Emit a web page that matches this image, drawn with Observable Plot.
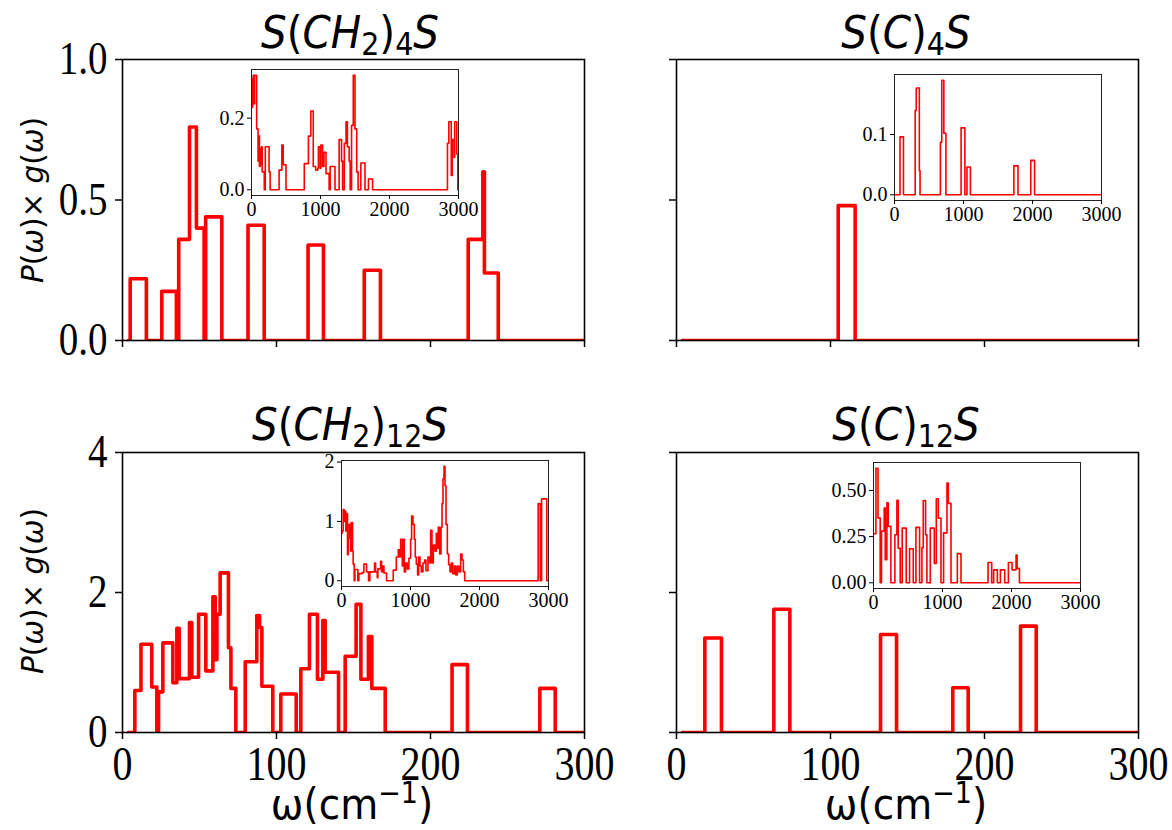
<!DOCTYPE html>
<html>
<head>
<meta charset="utf-8">
<script src="https://cdn.jsdelivr.net/npm/d3@7"></script>
<script src="https://cdn.jsdelivr.net/npm/@observablehq/plot@0.6"></script>
<style>
  body { margin: 0; background: #fff; }
  #fig { position: relative; width: 1172px; height: 830px; overflow: hidden; background: #fff; }
  #fig svg { position: absolute; overflow: visible; }
  #fig svg.panel text { font-family: "Liberation Serif", "Times New Roman", serif; }
</style>
</head>
<body>
<div id="fig"></div>
<script>
// ---- Projected phonon DOS, low-frequency window (0–300 cm^-1), step histograms ----
const omegaCH2_4 = [4, 5, 15.5, 25.5, 35, 36.5, 43.5, 48, 53, 54, 64.5, 81.5, 92, 120.5, 130.5, 157, 167.5, 224.5, 234, 235, 244, 300];
const valueCH2_4 = [0, 0.22, 0, 0.175, 0, 0.36, 0.76, 0.40, 0, 0.44, 0, 0.41, 0, 0.34, 0, 0.25, 0, 0.36, 0.60, 0.24, 0, 0];

const omegaC_4 = [4, 105, 116, 300];
const valueC_4 = [0, 0.48, 0, 0];

const omegaCH2_12 = [4, 8, 12, 19, 22.3, 23.4, 26.2, 32.7, 35.3, 36.8, 43.5, 45, 49.4, 54.1, 58.7, 60.2, 61.3, 63.4, 68.8, 70.4, 73.6, 79.7, 87.2, 89, 90.5, 97.6, 102.8, 112.8, 115.8, 121.4, 126.6, 130.1, 131.6, 140.3, 144.6, 151.7, 154.8, 159.7, 161.9, 170.6, 214, 224, 271, 281, 300];
const valueCH2_12 = [0, 0.60, 1.26, 0.65, 0, 0.58, 1.28, 0.71, 1.49, 0.77, 1.57, 0.79, 1.69, 0.88, 1.94, 1.04, 1.69, 2.28, 1.21, 0.63, 0, 1.01, 1.67, 1.50, 0.66, 0, 0.55, 0, 0.91, 1.69, 0.76, 1.60, 0.86, 0, 1.09, 1.83, 0.76, 1.37, 0.63, 0, 0.97, 0, 0.63, 0, 0];

const omegaC_12 = [4, 18.4, 29.2, 63.2, 73.6, 132.5, 142.9, 179.4, 189.4, 223.4, 233.6, 300];
const valueC_12 = [0, 1.35, 0, 1.76, 0, 1.40, 0, 0.64, 0, 1.52, 0, 0];

// ---- Full spectrum (0–3000 cm^-1) for the insets ----
const omegaCH2_4full = [5, 15, 25, 35, 45, 55, 75, 95, 100, 115, 125, 135, 145, 155, 185, 200, 255, 270, 400, 440, 460, 500, 765, 825, 860, 895, 930, 960, 970, 995, 1005, 1030, 1050, 1080, 1125, 1140, 1210, 1270, 1305, 1320, 1345, 1370, 1390, 1415, 1430, 1450, 1475, 1500, 1525, 1545, 1585, 1645, 1695, 1755, 2840, 2860, 2895, 2910, 2935, 2945, 2975, 2990, 3000];
const valueCH2_4full = [0.23, 0.31, 0.32, 0.24, 0.32, 0.32, 0.17, 0.08, 0.15, 0.065, 0.115, 0.07, 0.12, 0.05, 0, 0.12, 0.05, 0, 0.055, 0.125, 0.07, 0, 0.073, 0.15, 0.22, 0.065, 0.055, 0.06, 0.12, 0.06, 0.125, 0.065, 0.105, 0.045, 0, 0.065, 0, 0.14, 0.08, 0, 0.13, 0.19, 0.12, 0.08, 0, 0.18, 0.32, 0.17, 0.05, 0, 0.075, 0, 0.03, 0, 0.13, 0.19, 0.04, 0.14, 0.09, 0.19, 0.1, 0, 0];

const omegaC_4full = [5, 80, 130, 300, 315, 360, 370, 665, 685, 715, 745, 965, 1020, 1050, 1100, 1730, 1790, 1975, 2030, 3000];
const valueC_4full = [0, 0.096, 0, 0.14, 0.177, 0.04, 0, 0.087, 0.19, 0.102, 0, 0.111, 0, 0.046, 0, 0.048, 0, 0.057, 0, 0];

const omegaCH2_12full = [5, 10, 24, 39, 48, 63, 73, 87, 97, 111, 131, 140, 160, 169, 184, 194, 237, 252, 300, 324, 363, 392, 411, 460, 479, 494, 518, 527, 566, 581, 595, 615, 653, 750, 794, 823, 842, 857, 881, 895, 910, 929, 953, 977, 1002, 1016, 1036, 1055, 1069, 1084, 1103, 1118, 1137, 1157, 1181, 1205, 1224, 1253, 1278, 1292, 1311, 1331, 1355, 1374, 1389, 1403, 1423, 1442, 1457, 1471, 1486, 1500, 1515, 1534, 1553, 1573, 1592, 1611, 1636, 1655, 1679, 1703, 1727, 1747, 1766, 1786, 2850, 2880, 2900, 2975, 3000];
const valueCH2_12full = [0.80, 0.84, 1.2, 1.0, 1.17, 0.84, 1.13, 0.44, 0.72, 0.95, 0.5, 0.98, 0.5, 0.28, 0, 0.19, 0, 0.12, 0.14, 0.28, 0.15, 0, 0.15, 0.15, 0.3, 0.15, 0.05, 0.2, 0.33, 0.15, 0.25, 0.13, 0, 0.18, 0.4, 0.52, 0.4, 0.7, 0.25, 0.7, 0.15, 0.3, 0.2, 0.38, 0.7, 1.09, 0.95, 0.7, 0.4, 0.28, 0.1, 0.4, 0.25, 0.15, 0.3, 0.35, 0.17, 0.4, 0.3, 0.85, 0.3, 0.6, 0.5, 0.8, 0.55, 0.9, 0.45, 0.9, 1.3, 1.72, 1.93, 1.6, 0.95, 0.45, 0.27, 0.15, 0.3, 0.12, 0.25, 0.1, 0.25, 0.15, 0.45, 0.35, 0.15, 0, 1.3, 0, 1.38, 0, 0];

const omegaC_12full = [5, 35, 65, 97, 116, 155, 170, 194, 213, 252, 310, 339, 358, 387, 416, 474, 523, 576, 615, 668, 702, 721, 755, 774, 823, 881, 910, 939, 978, 1016, 1065, 1084, 1123, 1215, 1268, 1660, 1713, 1742, 1795, 1839, 1902, 1955, 2008, 2066, 2081, 2115, 3000];
const valueC_12full = [0.265, 0.62, 0.35, 0, 0.28, 0.405, 0.125, 0.433, 0.305, 0, 0.26, 0.447, 0.187, 0, 0.296, 0, 0.184, 0, 0.30, 0, 0.19, 0.445, 0.26, 0, 0.296, 0.105, 0.455, 0.35, 0, 0.27, 0.54, 0.43, 0, 0.158, 0, 0.11, 0, 0.07, 0, 0.07, 0, 0.11, 0.07, 0.15, 0.078, 0, 0];

// ---- Axis tick values ----
const xTicksMain = [0, 100, 200, 300];
const yTicksTop = [0, 0.5, 1.0];
const yTicksBottom = [0, 2, 4];
const xTicksInset = [0, 1000, 2000, 3000];

const SERIF = "Liberation Serif";
const fig = document.getElementById("fig");
const rows = (omega, value) => omega.map((w, i) => ({w, v: value[i]}));

function put(svg, left, top) {
  svg.classList.add("panel");
  svg.style.left = left + "px";
  svg.style.top = top + "px";
  fig.appendChild(svg);
}

// Tall, narrow tick digits: enlarge the font and squeeze it back to its natural width
function tallen(svg, axis, size, k) {
  d3.select(svg).selectAll(`g[aria-label='${axis}-axis tick label'] text`).each(function () {
    if (!this.textContent) return;
    this.style.fontSize = size + "px";
    const L = this.getComputedTextLength();
    this.style.fontSize = (size * k) + "px";
    this.setAttribute("textLength", L);
    this.setAttribute("lengthAdjust", "spacingAndGlyphs");
  });
}

// Main panel: frame at (fx, fy) with size fw x fh
function mainPanel({omega, value, yDomain, yTicks, yFormat, showX, showY, fx, fy, fw, fh}) {
  const m = {l: 110, r: 20, t: 20, b: 60};
  const svg = Plot.plot({
    width: fw + m.l + m.r, height: fh + m.t + m.b,
    marginLeft: m.l, marginRight: m.r, marginTop: m.t, marginBottom: m.b,
    style: {fontSize: "39px", background: "transparent", color: "#000"},
    x: {domain: [0, 300]},
    y: {domain: yDomain},
    marks: [
      Plot.line(rows(omega, value), {x: "w", y: "v", curve: "step-after", stroke: "#ff0000", strokeWidth: 3.6, clip: true}),
      Plot.frame({stroke: "#000", strokeWidth: 1.6}),
      Plot.axisX({ticks: xTicksMain, tickSize: 7, tickPadding: 6, strokeWidth: 1.5, label: null, fontFamily: SERIF,
                  tickFormat: showX ? (d => String(d)) : (() => "")}),
      Plot.axisY({ticks: yTicks, tickSize: 7, tickPadding: 8, strokeWidth: 1.5, label: null, fontFamily: SERIF,
                  tickFormat: showY ? yFormat : (() => "")})
    ]
  });
  put(svg, fx - m.l, fy - m.t);
  tallen(svg, "x", 40, 1.2);
  tallen(svg, "y", 39, 1.17);
}

// Inset panel: full 0–3000 cm^-1 range
function insetPanel({omega, value, yDomain, yTicks, yFormat, fx, fy}) {
  const fw = 207, fh = 126;
  const m = {l: 60, r: 10, t: 5, b: 30};
  const svg = Plot.plot({
    width: fw + m.l + m.r, height: fh + m.t + m.b,
    marginLeft: m.l, marginRight: m.r, marginTop: m.t, marginBottom: m.b,
    style: {fontSize: "20px", background: "transparent", color: "#000"},
    x: {domain: [0, 3000]},
    y: {domain: yDomain},
    marks: [
      Plot.frame({fill: "#fff", stroke: "none"}),
      Plot.line(rows(omega, value), {x: "w", y: "v", curve: "step-after", stroke: "#ff0000", strokeWidth: 1.6, clip: true}),
      Plot.frame({stroke: "#222", strokeWidth: 1}),
      Plot.axisX({ticks: xTicksInset, tickSize: 4, tickPadding: 2, strokeWidth: 1, label: null, fontFamily: SERIF, tickFormat: d => String(d)}),
      Plot.axisY({ticks: yTicks, tickSize: 4, tickPadding: 3, strokeWidth: 1, label: null, fontFamily: SERIF, tickFormat: yFormat})
    ]
  });
  put(svg, fx - m.l, fy - m.t);
}

const f1 = d3.format(".1f"), f0 = d3.format("d"), f2 = d3.format(".2f");

mainPanel({omega: omegaCH2_4, value: valueCH2_4, yDomain: [0, 1], yTicks: yTicksTop, yFormat: f1, showX: false, showY: true, fx: 122, fy: 59, fw: 462, fh: 281});
mainPanel({omega: omegaC_4, value: valueC_4, yDomain: [0, 1], yTicks: yTicksTop, yFormat: f1, showX: false, showY: false, fx: 676, fy: 59, fw: 462, fh: 281});
mainPanel({omega: omegaCH2_12, value: valueCH2_12, yDomain: [0, 4], yTicks: yTicksBottom, yFormat: f0, showX: true, showY: true, fx: 122, fy: 452, fw: 462, fh: 280});
mainPanel({omega: omegaC_12, value: valueC_12, yDomain: [0, 4], yTicks: yTicksBottom, yFormat: f0, showX: true, showY: false, fx: 676, fy: 452, fw: 462, fh: 280});

insetPanel({omega: omegaCH2_4full, value: valueCH2_4full, yDomain: [-0.016, 0.336], yTicks: [0, 0.2], yFormat: f1, fx: 251, fy: 69});
insetPanel({omega: omegaC_4full, value: valueC_4full, yDomain: [-0.0095, 0.1995], yTicks: [0, 0.1], yFormat: f1, fx: 894, fy: 74});
insetPanel({omega: omegaCH2_12full, value: valueCH2_12full, yDomain: [-0.0965, 2.0265], yTicks: [0, 1, 2], yFormat: f0, fx: 341, fy: 460});
insetPanel({omega: omegaC_12full, value: valueC_12full, yDomain: [-0.031, 0.651], yTicks: [0, 0.25, 0.5], yFormat: f2, fx: 873, fy: 462});

// ---- Titles and axis labels ----
const ov = d3.create("svg").attr("width", 1172).attr("height", 830)
  .style("left", "0px").style("top", "0px")
  .attr("font-family", "'DejaVu Sans', sans-serif");

function title(x, y, mol, n) {
  const t = ov.append("g").attr("transform", `translate(${x},${y}) scale(1,1.1)`)
    .append("text").attr("text-anchor", "middle").attr("font-size", 40.5);
  t.append("tspan").attr("font-style", "italic").text("S");
  t.append("tspan").text("(");
  if (mol === "CH2") {
    t.append("tspan").attr("font-style", "italic").text("CH");
    t.append("tspan").attr("font-size", 28.5).attr("dy", 6).text("2");
    t.append("tspan").attr("dy", -6).text(")");
  } else {
    t.append("tspan").attr("font-style", "italic").text("C");
    t.append("tspan").text(")");
  }
  t.append("tspan").attr("font-size", 28.5).attr("dy", 6).text(n);
  t.append("tspan").attr("font-style", "italic").attr("dy", -6).text("S");
}
title(350, 48, "CH2", "4");
title(906, 48, "C", "4");
title(350, 440, "CH2", "12");
title(906, 440, "C", "12");

function ylabel(cy) {
  const t = ov.append("text").attr("transform", `translate(43,${cy}) rotate(-90)`)
    .attr("text-anchor", "middle").attr("font-size", 29.5);
  t.append("tspan").attr("font-style", "italic").text("P");
  t.append("tspan").text("(");
  t.append("tspan").attr("font-style", "italic").text("ω");
  t.append("tspan").text(")× ");
  t.append("tspan").attr("font-style", "italic").text("g");
  t.append("tspan").text("(");
  t.append("tspan").attr("font-style", "italic").text("ω");
  t.append("tspan").text(")");
}
ylabel(200);
ylabel(591);

function xlabel(cx) {
  const t = ov.append("g").attr("transform", `translate(${cx},819) scale(1,1.1)`)
    .append("text").attr("text-anchor", "middle").attr("font-size", 39);
  t.append("tspan").text("ω(cm");
  t.append("tspan").attr("font-size", 27).attr("dy", -15).text("−1");
  t.append("tspan").attr("dy", 15).text(")");
}
xlabel(352);
xlabel(906);

fig.appendChild(ov.node());
</script>
</body>
</html>
